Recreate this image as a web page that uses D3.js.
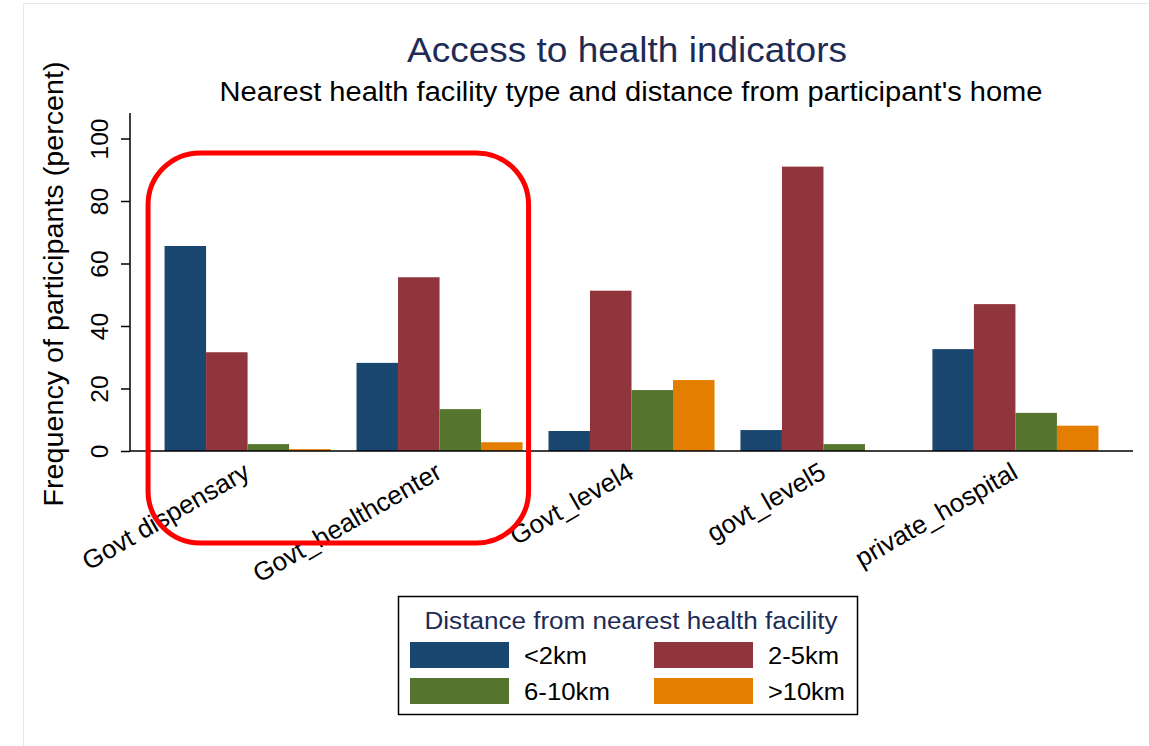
<!DOCTYPE html>
<html>
<head>
<meta charset="utf-8">
<script src="https://cdn.jsdelivr.net/npm/d3@7"></script>
<style>
  body { margin: 0; background: #fff; }
  text { font-family: Arial, "Liberation Sans", Helvetica, sans-serif; }
</style>
</head>
<body>
<div id="main"></div>
<script>
// data
var facilities = ["Govt dispensary", "Govt_healthcenter", "Govt_level4", "govt_level5", "private_hospital"];
var distances = ["<2km", "2-5km", "6-10km", ">10km"];
var under2 = [65.6, 28.2, 6.4, 6.7, 32.6];
var from2to5 = [31.6, 55.6, 51.3, 91.0, 47.0];
var from6to10 = [2.2, 13.4, 19.5, 2.2, 12.2];
var over10 = [0.6, 2.8, 22.7, 0, 8.1];
var yTicks = [0, 20, 40, 60, 80, 100];

var series = [under2, from2to5, from6to10, over10];
var colors = ["#1a476f", "#90353b", "#55752f", "#e37e00"];

var width = 1149;
var height = 746;

var svg = d3.select("#main")
  .append("svg")
  .attr("width", width)
  .attr("height", height);

// faint outer frame
svg.append("rect")
  .attr("x", 23.5)
  .attr("y", 3.5)
  .attr("width", width)
  .attr("height", height)
  .attr("fill", "none")
  .attr("stroke", "#e3eaed")
  .attr("stroke-width", 1);

var x = d3.scaleBand()
  .domain(facilities)
  .range([130, 1133])
  .paddingInner(0.135)
  .paddingOuter(0.18);

var xs = d3.scaleBand()
  .domain(distances)
  .range([0, x.bandwidth()]);

var y = d3.scaleLinear()
  .domain([0, 100])
  .range([451, 138.5]);

// title + subtitle
svg.append("text")
  .attr("x", 627)
  .attr("y", 62)
  .attr("text-anchor", "middle")
  .attr("font-size", 35)
  .attr("fill", "#1e2c55")
  .attr("textLength", 440)
  .attr("lengthAdjust", "spacingAndGlyphs")
  .text("Access to health indicators");

svg.append("text")
  .attr("x", 631)
  .attr("y", 101)
  .attr("text-anchor", "middle")
  .attr("font-size", 27)
  .attr("fill", "#000")
  .attr("textLength", 823)
  .attr("lengthAdjust", "spacingAndGlyphs")
  .text("Nearest health facility type and distance from participant's home");

// bars
var groups = svg.append("g")
  .selectAll("g")
  .data(facilities)
  .enter().append("g")
  .attr("transform", function(d) { return "translate(" + x(d) + ",0)"; });

groups.selectAll("rect")
  .data(function(d, i) {
    return series.map(function(s, j) { return { key: distances[j], value: s[i], color: colors[j] }; });
  })
  .enter().append("rect")
  .attr("x", function(d) { return xs(d.key); })
  .attr("width", xs.bandwidth())
  .attr("y", function(d) { return y(d.value); })
  .attr("height", function(d) { return y(0) - y(d.value); })
  .attr("fill", function(d) { return d.color; });

// y axis
var yAxis = svg.append("g")
  .attr("transform", "translate(130,0)")
  .call(d3.axisLeft(y).tickValues(yTicks).tickSize(9).tickFormat(d3.format("d")));

yAxis.select(".domain").remove();
yAxis.selectAll(".tick line").attr("stroke", "#000").attr("stroke-width", 1.5);
yAxis.selectAll(".tick text")
  .attr("font-size", 24.5)
  .attr("fill", "#000")
  .attr("text-anchor", "middle")
  .attr("transform", "translate(-22,0) rotate(-90)")
  .attr("x", 0)
  .attr("dy", 0)
  .attr("y", 0);

svg.append("line")
  .attr("x1", 130).attr("x2", 130)
  .attr("y1", y(108.2)).attr("y2", y(0))
  .attr("stroke", "#000")
  .attr("stroke-width", 1.5);

svg.append("text")
  .attr("transform", "translate(63," + 284 + ") rotate(-90)")
  .attr("text-anchor", "middle")
  .attr("font-size", 27)
  .attr("textLength", 445)
  .attr("lengthAdjust", "spacingAndGlyphs")
  .text("Frequency of participants (percent)");

// x axis
svg.append("line")
  .attr("x1", 130).attr("x2", 1133)
  .attr("y1", y(0)).attr("y2", y(0))
  .attr("stroke", "#000")
  .attr("stroke-width", 1.5);

svg.append("g")
  .selectAll("text")
  .data(facilities)
  .enter().append("text")
  .attr("transform", function(d) {
    return "translate(" + (x(d) + x.bandwidth() / 2 + 4) + "," + 477 + ") rotate(-30)";
  })
  .attr("text-anchor", "end")
  .attr("font-size", 26)
  .text(function(d) { return d; });

// highlight annotation round the first two groups
svg.append("rect")
  .attr("x", x(facilities[0]) - 16.5)
  .attr("y", y(95.4))
  .attr("width", x(facilities[1]) + x.bandwidth() + 6 - (x(facilities[0]) - 16.5))
  .attr("height", 543 - y(95.4))
  .attr("rx", 52)
  .attr("ry", 52)
  .attr("fill", "none")
  .attr("stroke", "#ff0000")
  .attr("stroke-width", 5);

// legend
var legend = svg.append("g").attr("id", "legend");

legend.append("rect")
  .attr("x", 398.5)
  .attr("y", 596.5)
  .attr("width", 459)
  .attr("height", 118)
  .attr("fill", "#fff")
  .attr("stroke", "#000")
  .attr("stroke-width", 1.5);

legend.append("text")
  .attr("x", 631)
  .attr("y", 629)
  .attr("text-anchor", "middle")
  .attr("font-size", 23)
  .attr("fill", "#1e2c55")
  .attr("textLength", 413)
  .attr("lengthAdjust", "spacingAndGlyphs")
  .text("Distance from nearest health facility");

var labelLengths = [63, 71, 86, 77];

var items = legend.selectAll("g.item")
  .data(distances)
  .enter().append("g")
  .attr("class", "item")
  .attr("transform", function(d, i) {
    return "translate(" + (410 + (i % 2) * 244) + "," + (642 + Math.floor(i / 2) * 36) + ")";
  });

items.append("rect")
  .attr("width", 99)
  .attr("height", 26)
  .attr("fill", function(d, i) { return colors[i]; });

items.append("text")
  .attr("x", 114)
  .attr("y", 22)
  .attr("font-size", 23)
  .attr("textLength", function(d, i) { return labelLengths[i]; })
  .attr("lengthAdjust", "spacingAndGlyphs")
  .text(function(d) { return d; });
</script>
</body>
</html>
